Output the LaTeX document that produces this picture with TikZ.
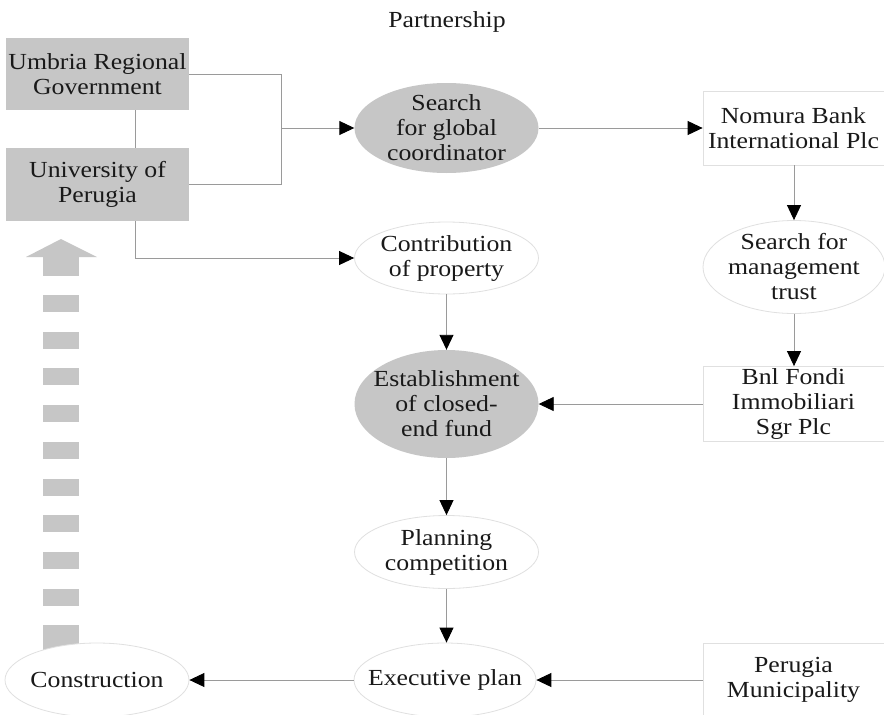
\documentclass[tikz,border=0pt]{standalone}
\usepackage{fontspec}
\setmainfont[FakeStretch=1.12]{Liberation Serif}
\usetikzlibrary{shapes.geometric,arrows.meta}
\definecolor{boxgray}{HTML}{C6C6C6}
\definecolor{linegray}{HTML}{9A9A9A}
\definecolor{edgegray}{HTML}{E0E0E0}
\tikzset{
  txt/.style={font=\fontsize{23}{25}\selectfont, align=center, text=black!90, inner sep=0pt},
  graybox/.style={txt, rectangle, fill=boxgray, draw=none, minimum width=183pt},
  whitebox/.style={txt, rectangle, fill=white, draw=edgegray, line width=0.8pt, minimum width=181pt},
  grayell/.style={ellipse, fill=boxgray, draw=none, inner sep=0pt},
  whiteell/.style={ellipse, fill=white, draw=edgegray, line width=0.8pt, inner sep=0pt},
  conn/.style={draw=linegray, line width=0.9pt},
  arr/.style={conn, -{Triangle[length=15pt,width=14pt,color=black]}},
  bigarrow/.style={fill=boxgray, draw=none},
}
\begin{document}
\begin{tikzpicture}[x=1pt,y=-1pt]
\useasboundingbox (0,0) rectangle (884,715);
\fill[white] (0,0) rectangle (884,715);

% dashed big gray arrow
\fill[bigarrow] (26,257) -- (61,239) -- (97,257) -- cycle;
\fill[bigarrow] (43,256) rectangle (79,276);
\foreach \k in {0,...,9} {
  \fill[bigarrow] (43,{295+36.7*\k}) rectangle (79,{312+36.7*\k});
}
\fill[bigarrow] (43,625) rectangle (79,660);

\node[txt] (title) at (447,22) {Partnership};

\node[graybox, minimum height=72pt] (umbria) at (97.5,74) {Umbria Regional\\Government};
\node[graybox, minimum height=73pt] (univ) at (97.5,184.5) {University of\\Perugia};

\node[grayell, minimum width=184pt, minimum height=90pt] (search) at (446.5,128) {};
\node[txt] (searchT) at (search) {Search\\for global\\coordinator};
\node[whiteell, minimum width=184pt, minimum height=72pt] (contrib) at (446.5,258) {};
\node[txt] (contribT) at (contrib) {Contribution\\of property};
\node[grayell, minimum width=184pt, minimum height=108pt] (estab) at (446.5,404) {};
\node[txt] (estabT) at (estab) {Establishment\\of closed-\\end fund};
\node[whiteell, minimum width=184pt, minimum height=73pt] (plan) at (446.5,552) {};
\node[txt] (planT) at (plan) {Planning\\competition};
\node[whiteell, minimum width=182pt, minimum height=74pt] (exec) at (445,680) {};
\node[txt] (execT) at (exec) {Executive plan};
\node[whiteell, minimum width=184pt, minimum height=74pt] (constr) at (97,680) {};
\node[txt] (constrT) at (constr) {Construction};

\node[whitebox, minimum height=74pt] (nomura) at (793.5,128) {Nomura Bank\\International Plc};
\node[whiteell, minimum width=182pt, minimum height=93pt] (mgmt) at (794,267) {};
\node[txt] (mgmtT) at (mgmt) {Search for\\management\\trust};
\node[whitebox, minimum height=75pt] (bnl) at (793.5,404) {Bnl Fondi\\Immobiliari\\Sgr Plc};
\node[whitebox, minimum height=74pt] (perugia) at (793.5,680) {Perugia\\Municipality};

\coordinate (xl) at (135,0);
\coordinate (xj) at (281,0);
\coordinate (junc) at (281,128);

% connectors
\draw[conn] (umbria.east) -- (umbria.east -| xj) -- (univ.east -| xj) -- (univ.east);
\draw[conn] (umbria.south -| xl) -- (univ.north -| xl);
\draw[arr] (junc) -- (search.west);
\draw[arr] (univ.south -| xl) |- (contrib.west);
\draw[arr] (search.east) -- (nomura.west);
\draw[arr] (mgmt.north |- nomura.south) -- (mgmt.north);
\draw[arr] (mgmt.south) -- (mgmt.south |- bnl.north);
\draw[arr] (bnl.west) -- (estab.east);
\draw[arr] (contrib.south) -- (estab.north);
\draw[arr] (estab.south) -- (plan.north);
\draw[arr] (plan.south) -- (plan.south |- exec.north);
\draw[arr] (perugia.west) -- (exec.east);
\draw[arr] (exec.west) -- (constr.east);
\end{tikzpicture}
\end{document}
